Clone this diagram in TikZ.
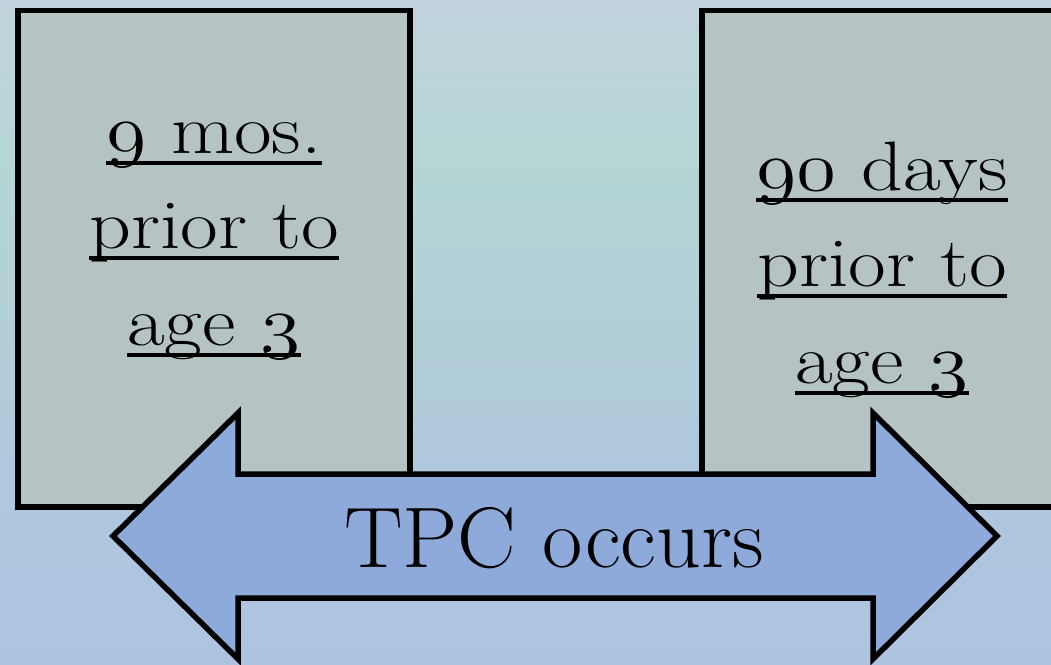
\documentclass[tikz,border=0pt]{standalone}
\usepackage{graphicx}
\definecolor{bgtop}{RGB}{193,211,221}
\definecolor{bgteal}{RGB}{181,214,213}
\definecolor{bgmid}{RGB}{178,207,216}
\definecolor{bglow}{RGB}{176,200,221}
\definecolor{bgbot}{RGB}{174,195,224}
\definecolor{boxfill}{RGB}{181,195,196}
\definecolor{arrowfill}{RGB}{142,170,219}
% backdrop: grey-blue at the top, teal band in the upper third, periwinkle at the bottom
\pgfdeclareverticalshading{backdrop}{100bp}{%
  color(0bp)=(bgbot); color(25bp)=(bgbot); color(40bp)=(bglow);
  color(50bp)=(bgmid); color(63bp)=(bgteal); color(75bp)=(bgtop); color(100bp)=(bgtop)}
% old-style digits: math-italic figures at their largest design size, scaled up to 70pt
\newcommand{\osf}[1]{\scalebox{2.8135}{\fontencoding{OML}\fontfamily{cmm}\fontseries{m}\fontshape{it}\fontsize{24.88}{24.88}\selectfont #1}}
% underline that sits at a fixed depth and crosses descenders
\newcommand{\ulword}[1]{\setbox0\hbox{#1}\rlap{\rule[-0.17em]{\wd0}{0.05em}}\box0}
\tikzset{
  panel/.style={draw=black, line width=5.5pt, fill=boxfill},
  bigarrow/.style={draw=black, line width=5.5pt, fill=arrowfill, line join=miter},
  boxline/.style={anchor=base, inner sep=0pt, font=\fontsize{70}{70}\selectfont},
  arrowtext/.style={anchor=base, inner sep=0pt, font=\fontsize{86}{86}\selectfont}
}
\begin{document}
\begin{tikzpicture}[x=1pt, y=-1pt]
  \useasboundingbox (0,0) rectangle (1051,664);
  \begin{scope}
    \clip (0,0) rectangle (1051,664);
    % background
    \shade[shading=backdrop] (0,0) rectangle (1051,664);
    % the two time panels
    \draw[panel] (18,10.5) rectangle (410,507);
    \draw[panel] (702,10.5) rectangle (1064,507);
    % double-headed arrow
    \draw[bigarrow] (113,536) -- (238,413) -- (238,474) -- (873,474) -- (873,413)
      -- (997,536) -- (873,659) -- (873,598) -- (238,598) -- (238,659) -- cycle;
  \end{scope}
  % left panel text
  \node[boxline] (l1) at (214,153) {\scalebox{1.17}[1]{\ulword{\osf{9} mos.}}};
  \node[boxline] (l2) at (214,248) {\scalebox{1.17}[1]{\ulword{prior to}}};
  \node[boxline] (l3) at (214,345) {\scalebox{1.17}[1]{\ulword{age \osf{3}}}};
  % right panel text
  \node[boxline] (r1) at (882,190) {\scalebox{1.17}[1]{\ulword{\osf{90} days}}};
  \node[boxline] (r2) at (882,286) {\scalebox{1.17}[1]{\ulword{prior to}}};
  \node[boxline] (r3) at (882,383) {\scalebox{1.17}[1]{\ulword{age \osf{3}}}};
  % arrow label
  \node[arrowtext] (tpc) at (554,567) {\scalebox{1.02}[1]{TPC occurs}};
\end{tikzpicture}
\end{document}
